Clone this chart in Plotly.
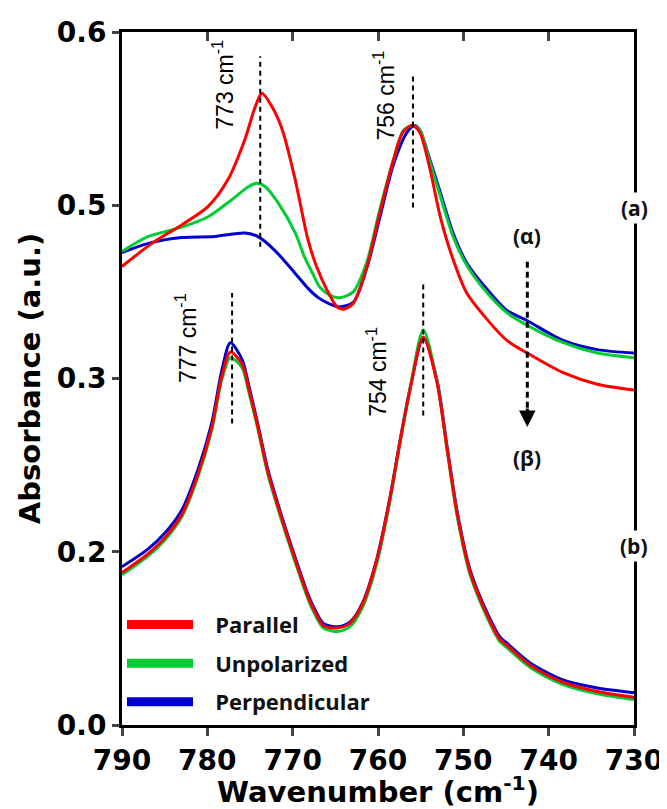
import plotly.graph_objects as go

# ---------------- data (y in axis display units; tick labels below) ----------------
wn_par_a = [790, 786.5, 783, 779.9, 777.6, 775.6, 774.4, 773.6, 772.4, 771.2, 769.7, 768.2, 767.2,
            766.0, 764.8, 764.1, 762.9, 761.3, 759.8, 758.2, 757.1, 756.0, 755.1, 753.9, 752.7,
            751.2, 749.6, 747.2, 744.9, 742.5, 738.3, 734.3, 730.0]
abs_par_a = [0.397, 0.417, 0.433, 0.449, 0.472, 0.507, 0.535, 0.547, 0.535, 0.515, 0.472, 0.420, 0.397,
             0.377, 0.362, 0.360, 0.365, 0.397, 0.443, 0.489, 0.513, 0.519, 0.513, 0.481, 0.440,
             0.403, 0.374, 0.351, 0.333, 0.322, 0.305, 0.295, 0.290]

wn_unp_a = [790, 786.9, 783, 779.9, 777.1, 775.2, 774.2, 773.2, 771.7, 769.7, 768.6, 767.6, 766.8,
            765.6, 764.5, 762.9, 761.3, 759.8, 758.2, 757.0, 755.9, 755.1, 753.9, 752.7, 751.2,
            749.6, 747.2, 744.9, 742.5, 738.3, 734.3, 730.0]
abs_unp_a = [0.410, 0.423, 0.431, 0.440, 0.455, 0.466, 0.469, 0.466, 0.452, 0.426, 0.405, 0.390, 0.379,
             0.372, 0.370, 0.375, 0.401, 0.446, 0.489, 0.515, 0.519, 0.515, 0.487, 0.458, 0.423,
             0.398, 0.374, 0.357, 0.346, 0.331, 0.322, 0.318]

wn_per_a = [790, 786.9, 783, 779.1, 775.6, 774.1, 772.1, 769.7, 768.2, 767.0, 765.8, 764.6, 762.9,
            761.3, 759.8, 758.2, 756.6, 755.7, 755.1, 753.9, 752.7, 751.2, 749.6, 747.2, 744.9,
            742.5, 738.3, 734.3, 730.0]
abs_per_a = [0.409, 0.417, 0.422, 0.423, 0.426, 0.423, 0.411, 0.391, 0.378, 0.370, 0.365, 0.362, 0.366,
             0.396, 0.439, 0.485, 0.513, 0.519, 0.515, 0.489, 0.461, 0.426, 0.400, 0.377, 0.359,
             0.350, 0.333, 0.325, 0.322]

wn_b = [790, 787, 785, 783, 781.1, 779.5, 778.3, 777.3, 775.9, 775.2, 774.1, 772.9, 771.25, 769.7,
        768.2, 767.4, 766.4, 764.8, 763.3, 761.8, 760.1, 758.6, 757.4, 756.2, 754.7, 753.1, 751.9,
        750.7, 749.2, 747.2, 745.7, 744.9, 742.2, 738.3, 734.3, 730]
abs_per_b = [0.137, 0.152, 0.166, 0.186, 0.221, 0.261, 0.307, 0.331, 0.316, 0.296, 0.261, 0.221, 0.180,
             0.145, 0.113, 0.100, 0.088, 0.085, 0.089, 0.106, 0.145, 0.197, 0.247, 0.293, 0.335, 0.299,
             0.241, 0.184, 0.134, 0.097, 0.076, 0.071, 0.054, 0.039, 0.032, 0.028]
abs_par_b = [0.132, 0.148, 0.162, 0.182, 0.217, 0.257, 0.302, 0.323, 0.312, 0.293, 0.259, 0.219, 0.178,
             0.143, 0.111, 0.098, 0.086, 0.084, 0.088, 0.105, 0.144, 0.196, 0.246, 0.292, 0.336, 0.297,
             0.239, 0.182, 0.132, 0.095, 0.074, 0.069, 0.052, 0.037, 0.029, 0.024]
abs_unp_b = [0.130, 0.146, 0.160, 0.180, 0.215, 0.255, 0.299, 0.318, 0.309, 0.290, 0.257, 0.217, 0.176,
             0.141, 0.109, 0.096, 0.084, 0.081, 0.085, 0.102, 0.141, 0.194, 0.245, 0.293, 0.342, 0.298,
             0.238, 0.180, 0.130, 0.093, 0.072, 0.067, 0.050, 0.035, 0.027, 0.022]

series_names = ["Parallel", "Unpolarized", "Perpendicular"]
series_colors = ["#ff0000", "#00cc33", "#0000cc"]

x_ticks = [790, 780, 770, 760, 750, 740, 730]
y_tickvals = [0.0, 0.15, 0.30, 0.45, 0.60]
y_ticktext = ["0.0", "0.2", "0.3", "0.5", "0.6"]

peak_wn = [773.8, 755.9, 777.1, 754.7]
peak_y0 = [0.414, 0.448, 0.261, 0.268]
peak_y1 = [0.579, 0.562, 0.374, 0.383]
peak_labels = ["773 cm<sup>-1</sup>", "756 cm<sup>-1</sup>", "777 cm<sup>-1</sup>", "754 cm<sup>-1</sup>"]
label_wn = [778.1, 759.3, 782.5, 760.2]
label_y = [0.554, 0.545, 0.335, 0.306]

arrow_wn = 742.5
arrow_y = [0.401, 0.258]
arrow_labels = ["(α)", "(β)"]
arrow_label_y = [0.423, 0.231]

panel_labels = ["(a)", "(b)"]
panel_label_y = [0.448, 0.155]

# ---------------- figure ----------------
fig = go.Figure()

# legend-only entries (thick lines)
for name, col in zip(series_names, series_colors):
    fig.add_trace(go.Scatter(x=[None], y=[None], mode="lines", name="\u00a0\u00a0\u00a0" + name,
                             line=dict(color=col, width=9), legendgroup=name, showlegend=True))

# empty trace so the top (mirror) axis with inward ticks is drawn
fig.add_trace(go.Scatter(x=[None], y=[None], xaxis="x2", showlegend=False, hoverinfo="skip"))

curves = [
    (wn_per_a, abs_per_a, 2), (wn_unp_a, abs_unp_a, 1), (wn_par_a, abs_par_a, 0),
    (wn_b, abs_per_b, 2), (wn_b, abs_unp_b, 1), (wn_b, abs_par_b, 0),
]
for xs, ys, i in curves:
    fig.add_trace(go.Scatter(x=xs, y=ys, mode="lines", showlegend=False,
                             line=dict(color=series_colors[i], width=3, shape="spline", smoothing=0.8),
                             legendgroup=series_names[i], hoverinfo="skip"))

shapes = []
for w, a, b in zip(peak_wn, peak_y0, peak_y1):
    shapes.append(dict(type="line", xref="x", yref="y", x0=w, x1=w, y0=a, y1=b,
                       line=dict(color="black", width=2, dash="5px,4px")))
shapes.append(dict(type="line", xref="x", yref="y", x0=arrow_wn, x1=arrow_wn,
                   y0=arrow_y[0], y1=arrow_y[1] + 0.012,
                   line=dict(color="black", width=3, dash="6px,4px")))

annotations = []
for w, yv, t in zip(label_wn, label_y, peak_labels):
    annotations.append(dict(x=w, y=yv, xref="x", yref="y", text=t, showarrow=False, textangle=-90,
                            font=dict(family="Liberation Sans", size=23, color="black")))
annotations.append(dict(x=arrow_wn, y=arrow_y[1], xref="x", yref="y", text="", showarrow=True,
                        ax=0, ay=-20, arrowhead=2, arrowsize=1.1, arrowwidth=3, arrowcolor="black"))
for t, yv in zip(arrow_labels, arrow_label_y):
    annotations.append(dict(x=arrow_wn, y=yv, xref="x", yref="y", text=t, showarrow=False,
                            font=dict(family="Open Sans", size=21, color="#111111", weight="bold")))
for t, yv in zip(panel_labels, panel_label_y):
    annotations.append(dict(x=1, y=yv, xref="paper", yref="y", text=t, showarrow=False,
                            bgcolor="white", xanchor="center",
                            font=dict(family="Open Sans", size=21, color="#111111", weight="bold")))

axis_font = dict(family="DejaVu Sans", size=28, color="black", weight="bold")
title_font = dict(family="DejaVu Sans", size=29, color="black", weight="bold")

# the page body adds an 8 px offset, so the figure is 8 px smaller than the window
fig.update_layout(
    width=659, height=801,
    margin=dict(l=114, r=33, t=24, b=84),
    paper_bgcolor="white", plot_bgcolor="white",
    shapes=shapes, annotations=annotations,
    legend=dict(x=0.0, y=0.175, xanchor="left", yanchor="top", bgcolor="rgba(0,0,0,0)",
                font=dict(family="Open Sans", size=22, color="#111111", weight="bold"),
                itemwidth=66, tracegroupgap=7, traceorder="grouped"),
    xaxis=dict(range=[790, 730], tickvals=x_ticks, ticks="outside", ticklen=8, tickwidth=2.5,
               showline=True, linewidth=3, linecolor="black", mirror=False, showgrid=False,
               zeroline=False, tickfont=axis_font, automargin=False,
               title=dict(text="Wavenumber (cm<sup>-1</sup>)", font=title_font, standoff=5)),
    xaxis2=dict(range=[790, 730], overlaying="x", side="top", tickvals=x_ticks, ticks="inside",
                ticklen=9, tickwidth=2.5, showline=True, linewidth=3, linecolor="black",
                showticklabels=False, showgrid=False, zeroline=False, automargin=False),
    yaxis=dict(range=[0, 0.6], tickvals=y_tickvals, ticktext=y_ticktext, ticks="outside",
               ticklen=7, tickwidth=2.5, showline=True, linewidth=3, linecolor="black",
               mirror=True, showgrid=False, zeroline=False, tickfont=axis_font, automargin=False,
               title=dict(text="Absorbance (a.u.)", font=title_font, standoff=8)),
)

fig.write_html("out.html")
